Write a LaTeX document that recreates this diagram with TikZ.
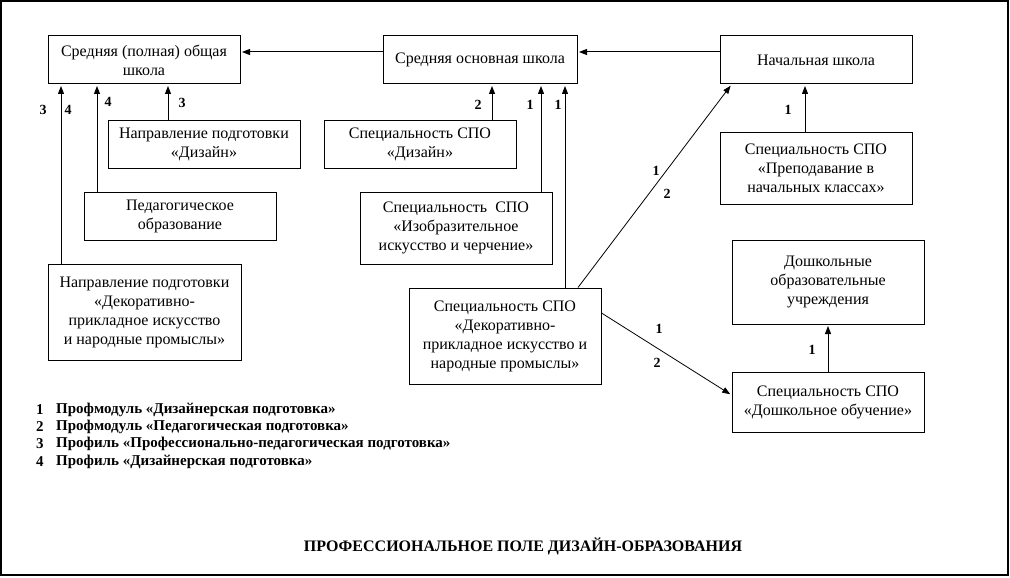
\documentclass[tikz,border=0pt]{standalone}
\usepackage{fontspec}
\setmainfont{Liberation Serif}
\usetikzlibrary{arrows.meta}
\begin{document}
\begin{tikzpicture}[x=1pt,y=-1pt,
  box/.style={draw,line width=1pt,rectangle,inner sep=0pt,align=center,
    font=\fontsize{16}{19}\selectfont},
  arr/.style={line width=1pt,-{Triangle[length=8pt,width=6pt]},shorten >=1.5pt},
  num/.style={font=\fontsize{14}{16}\selectfont\bfseries,inner sep=0pt},
  leg/.style={font=\fontsize{15}{17}\selectfont\bfseries,inner sep=0pt,anchor=west}]
\useasboundingbox (0,0) rectangle (1010,578);
\draw[line width=1.5pt] (1,1) rectangle (1008,575);
% boxes (centre, width, height)
\node[box,minimum width=192pt,minimum height=48pt] (A) at (144,60) {Средняя (полная) общая\\школа};
\node[box,minimum width=194pt,minimum height=48pt] (B) at (480,60) {Средняя основная школа};
\node[box,minimum width=192pt,minimum height=48pt] (C) at (816,60) {Начальная школа};
\node[box,minimum width=192pt,minimum height=48pt] (D) at (204,144) {Направление подготовки\\«Дизайн»};
\node[box,minimum width=192pt,minimum height=48pt] (E) at (180,216) {Педагогическое\\образование};
\node[box,minimum width=193pt,minimum height=96pt] (F) at (144.5,312) {Направление подготовки\\«Декоративно-\\прикладное искусство\\и народные промыслы»};
\node[box,minimum width=192pt,minimum height=48pt] (G) at (420,144) {Специальность СПО\\«Дизайн»};
\node[box,minimum width=192pt,minimum height=72pt] (H) at (456,228) {Специальность~~СПО\\«Изобразительное\\искусство и черчение»};
\node[box,minimum width=192pt,minimum height=96pt] (I) at (505,336) {Специальность СПО\\«Декоративно-\\прикладное искусство и\\народные промыслы»};
\node[box,minimum width=192pt,minimum height=72pt] (J) at (816,168) {Специальность СПО\\«Преподавание в\\начальных классах»};
\node[box,minimum width=192pt,minimum height=84pt] (K) at (828,282) {Дошкольные\\образовательные\\учреждения};
\node[box,minimum width=192pt,minimum height=60pt] (L) at (828,402) {Специальность СПО\\«Дошкольное обучение»};
% connectors
\draw[arr] ([yshift=8pt]B.west) -- ([yshift=8pt]A.east);
\draw[arr] ([yshift=8pt]C.west) -- ([yshift=8pt]B.east);
\draw[arr] (D.north -| 168,0) -- (A.south -| 168,0);
\draw[arr] (E.north -| 97,0) -- (A.south -| 97,0);
\draw[arr] (F.north -| 61,0) -- (A.south -| 61,0);
\draw[arr] (G.north -| 492,0) -- (B.south -| 492,0);
\draw[arr] (H.north -| 541,0) -- (B.south -| 541,0);
\draw[arr] (I.north -| 565,0) -- (B.south -| 565,0);
\draw[arr] (J.north -| 805,0) -- (C.south -| 805,0);
\draw[arr] (L.north -| 828,0) -- (K.south -| 828,0);
\draw[arr,line width=0.8pt] ([xshift=73pt]I.north) -- ([xshift=12pt]C.south west);
\draw[arr,line width=0.8pt] ([yshift=23pt]I.east) -- ([yshift=7pt]L.west);
% connector labels
\node[num] (n3a) at (182,103) {3};
\node[num] (n4a) at (108,102) {4};
\node[num] (n3b) at (43,110) {3};
\node[num] (n4b) at (68,110) {4};
\node[num] (n2c) at (478,105) {2};
\node[num] (n1d) at (530,105) {1};
\node[num] (n1e) at (558,105) {1};
\node[num] (n1f) at (788,110) {1};
\node[num] (n1g) at (656,171) {1};
\node[num] (n2g) at (667,194) {2};
\node[num] (n1h) at (659,329) {1};
\node[num] (n2h) at (657,363) {2};
\node[num] (n1i) at (812,350) {1};
% legend
\node[leg] (l1n) at (36,410) {1};
\node[leg] (l1t) at (56,410) {Профмодуль «Дизайнерская подготовка»};
\node[leg] (l2n) at (36,427) {2};
\node[leg] (l2t) at (56,427) {Профмодуль «Педагогическая подготовка»};
\node[leg] (l3n) at (36,444) {3};
\node[leg] (l3t) at (56,444) {Профиль «Профессионально-педагогическая подготовка»};
\node[leg] (l4n) at (36,462) {4};
\node[leg] (l4t) at (56,462) {Профиль «Дизайнерская подготовка»};
% title
\node[font=\fontsize{16}{19}\selectfont\bfseries,inner sep=0pt] (title) at (523,546) {ПРОФЕССИОНАЛЬНОЕ ПОЛЕ ДИЗАЙН-ОБРАЗОВАНИЯ};
\end{tikzpicture}
\end{document}
